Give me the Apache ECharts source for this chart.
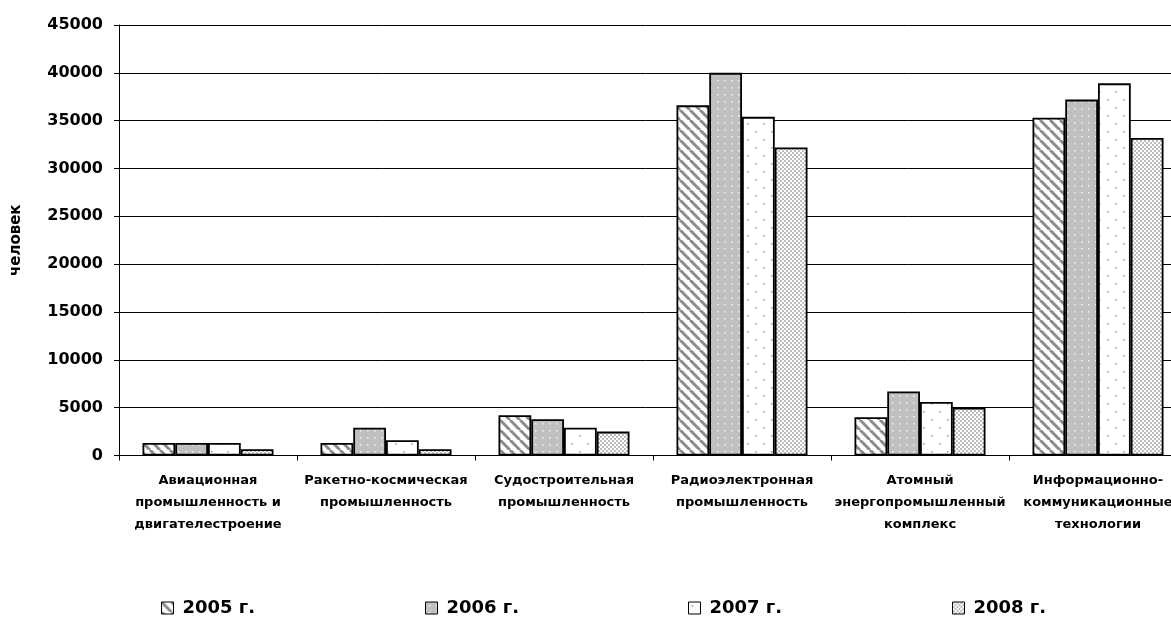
<!DOCTYPE html>
<html>
<head>
<meta charset="utf-8">
<script src="https://cdn.jsdelivr.net/npm/echarts@6/dist/echarts.min.js"></script>
<style>html,body{margin:0;padding:0;background:#fff;overflow:hidden;}#main{width:1171px;height:621px;}</style>
</head>
<body>
<div id="main"></div>
<script>
var categories = ['Авиационная\nпромышленность и\nдвигателестроение', 'Ракетно-космическая\nпромышленность', 'Судостроительная\nпромышленность', 'Радиоэлектронная\nпромышленность', 'Атомный\nэнергопромышленный\nкомплекс', 'Информационно-\nкоммуникационные\nтехнологии'];
var seriesNames = ['2005 г.', '2006 г.', '2007 г.', '2008 г.'];
var s2005 = [1300, 1300, 4200, 36600, 4000, 35300];
var s2006 = [1300, 2900, 3800, 40000, 6700, 37200];
var s2007 = [1300, 1600, 2900, 35400, 5600, 38900];
var s2008 = [650, 650, 2500, 32200, 5000, 33200];
var yTicks = [0, 5000, 10000, 15000, 20000, 25000, 30000, 35000, 40000, 45000];

function tile(w, h, draw) {
  var c = document.createElement('canvas');
  c.width = w; c.height = h;
  var ctx = c.getContext('2d');
  draw(ctx, w, h);
  return c;
}
var pStripes = tile(10, 10, function (ctx, w, h) {
  ctx.fillStyle = '#fff'; ctx.fillRect(0, 0, w, h);
  ctx.strokeStyle = '#8c8c8c'; ctx.lineWidth = 3;
  for (var x0 = -10; x0 <= 10; x0 += 10) {
    ctx.beginPath(); ctx.moveTo(x0, 0); ctx.lineTo(x0 + 10, 10); ctx.stroke();
  }
});
var pGrayDots = tile(7, 7, function (ctx, w, h) {
  ctx.fillStyle = '#c0c0c0'; ctx.fillRect(0, 0, w, h);
  ctx.fillStyle = '#ececec'; ctx.fillRect(3, 3, 1.6, 1.6);
});
var pWhiteDots = tile(16, 16, function (ctx, w, h) {
  ctx.fillStyle = '#fff'; ctx.fillRect(0, 0, w, h);
  ctx.fillStyle = '#9a9a9a'; ctx.fillRect(3, 3, 1.5, 1.5); ctx.fillRect(11, 11, 1.5, 1.5);
});
var pCheck = tile(4, 4, function (ctx, w, h) {
  ctx.fillStyle = '#fff'; ctx.fillRect(0, 0, w, h);
  ctx.fillStyle = '#bdbdbd'; ctx.fillRect(0, 0, 2, 2); ctx.fillRect(2, 2, 2, 2);
});
var patterns = [pStripes, pGrayDots, pWhiteDots, pCheck];
var values = [s2005, s2006, s2007, s2008];

var chart = echarts.init(document.getElementById('main'), null, {renderer: 'canvas'});
var font = '"DejaVu Sans", "Liberation Sans", Arial, sans-serif';
var legendLeft = [161, 425, 688, 952];

var series = seriesNames.map(function (n, i) {
  return {
    name: n, type: 'bar', data: values[i],
    barGap: '0%', barCategoryGap: '26.4%',
    itemStyle: { color: {image: patterns[i], repeat: 'repeat'}, borderColor: '#000', borderWidth: 1.8 },
    emphasis: {disabled: true},
    animation: false
  };
});

var legends = seriesNames.map(function (n, i) {
  return {
    data: [n], left: legendLeft[i], top: 599, orient: 'horizontal', padding: 0,
    icon: 'rect', itemWidth: 12, itemHeight: 12, itemGap: 8,
    textStyle: {fontFamily: font, fontWeight: 'bold', fontSize: 18, color: '#000', padding: [0, 0, 0, 4]},
    itemStyle: {borderColor: '#000', borderWidth: 1},
    selectedMode: false
  };
});

chart.setOption({
  backgroundColor: '#fff',
  animation: false,
  legend: legends,
  grid: {left: 119, top: 25, width: 1068, bottom: 165.5, containLabel: false, outerBoundsMode: 'none'},
  xAxis: {
    type: 'category', data: categories,
    axisLine: {lineStyle: {color: '#000', width: 1}},
    axisTick: {show: true, length: 5, lineStyle: {color: '#000'}},
    axisLabel: {interval: 0, margin: 14, fontFamily: font, fontWeight: 'bold', fontSize: 13, lineHeight: 22, color: '#000'}
  },
  yAxis: {
    type: 'value', min: 0, max: 45000, interval: 5000,
    name: 'человек', nameLocation: 'middle', nameGap: 95, nameRotate: 90,
    nameTextStyle: {fontFamily: font, fontWeight: 'bold', fontSize: 15, color: '#000'},
    axisLine: {show: true, lineStyle: {color: '#000', width: 1}},
    axisTick: {show: true, length: 5, lineStyle: {color: '#000'}},
    splitLine: {show: true, lineStyle: {color: '#000', width: 1}},
    axisLabel: {margin: 16, fontFamily: font, fontWeight: 'bold', fontSize: 16, color: '#000',
      formatter: function (v) { return yTicks.indexOf(v) >= 0 ? String(v) : ''; }}
  },
  series: series
});
</script>
</body>
</html>
